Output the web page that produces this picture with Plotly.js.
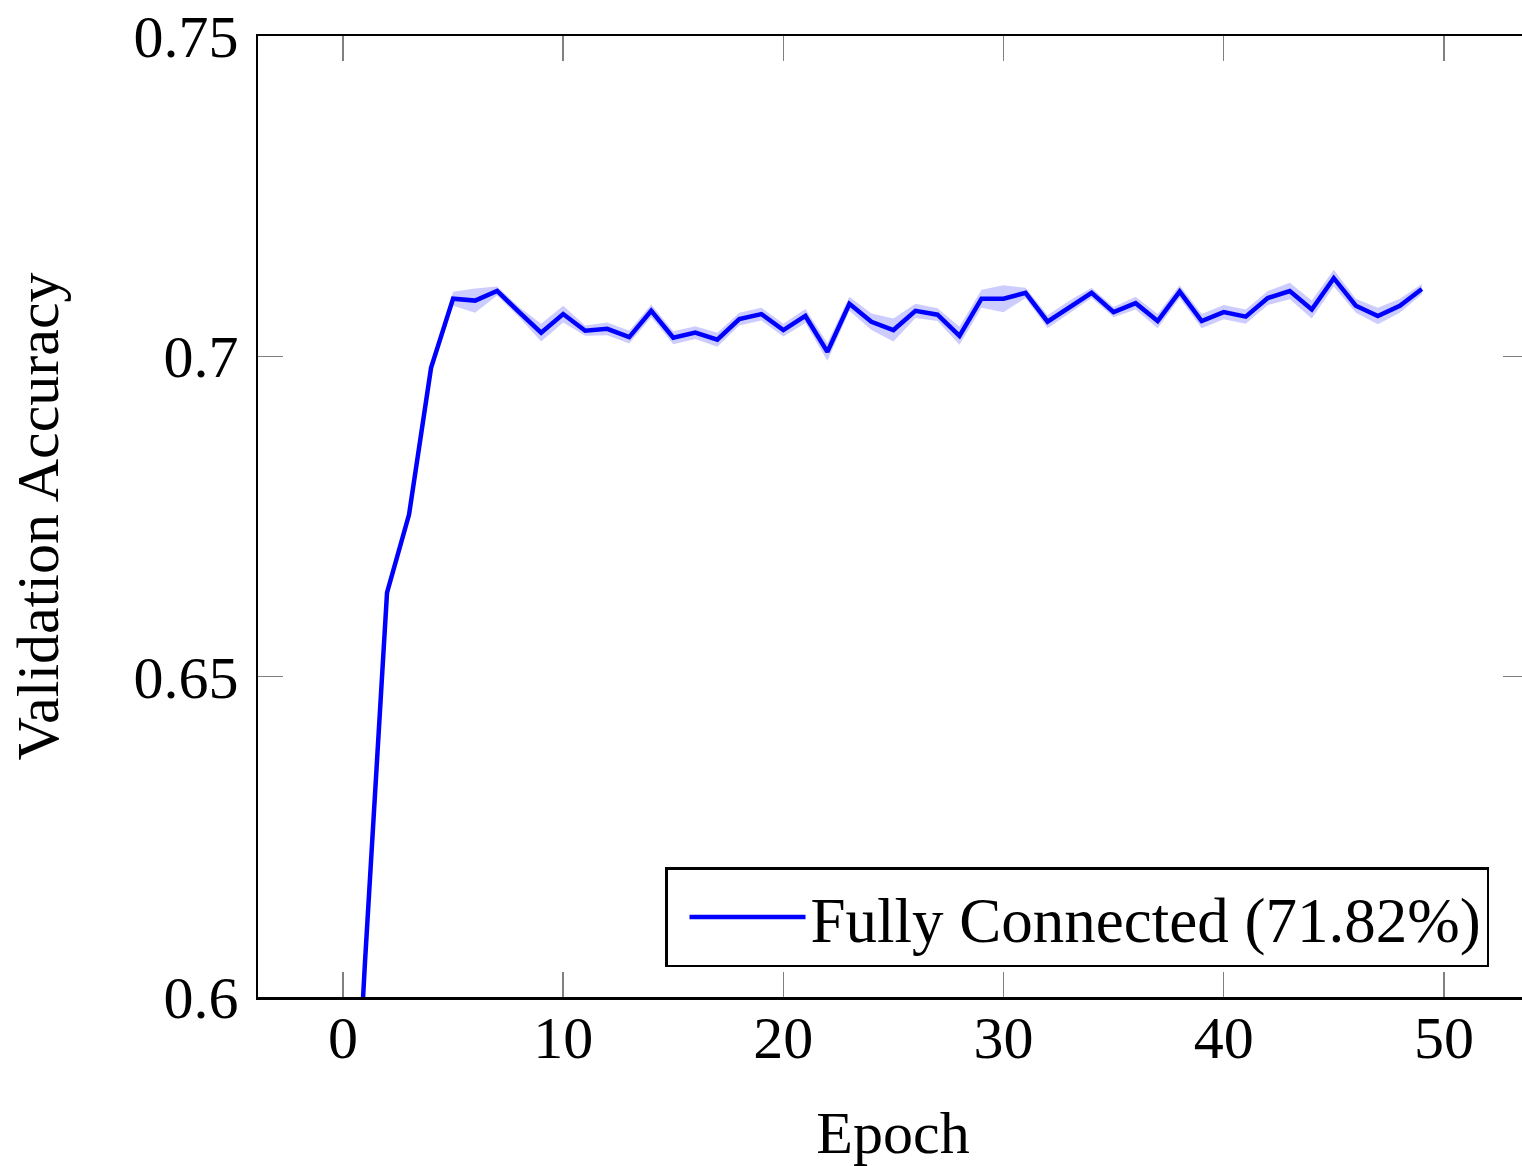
<!DOCTYPE html>
<html>
<head>
<meta charset="utf-8">
<script src="https://cdn.plot.ly/plotly-3.0.1.min.js"></script>
<style>
html, body { margin: 0; padding: 0; background: #fff; overflow: hidden; }
#chart { width: 1528px; height: 1166px; }
</style>
</head>
<body>
<div id="chart"></div>
<script>
const epochs = [0,1,2,3,4,5,6,7,8,9,10,11,12,13,14,15,16,17,18,19,20,21,22,23,24,25,26,27,28,29,30,31,32,33,34,35,36,37,38,39,40,41,42,43,44,45,46,47,48,49];
const meanAcc = [0.542,0.6055,0.6631,0.6753,0.6982,0.7090,0.7087,0.7102,0.7069,0.7037,
                 0.7066,0.7040,0.7043,0.7030,0.7071,0.7029,0.7037,0.7026,0.7058,0.7066,
                 0.7041,0.7063,0.7007,0.7082,0.7054,0.7041,0.7071,0.7065,0.7032,0.7090,
                 0.7090,0.7099,0.7054,0.7077,0.7099,0.7069,0.7083,0.7055,0.7101,0.7055,
                 0.7069,0.7062,0.7091,0.7102,0.7073,0.7122,0.7079,0.7063,0.7079,0.7105];
const stdAcc = [0.0007,0.0007,0.0006,0.0006,0.0006,0.0011,0.0019,0.0007,0.0008,0.0014,
                0.0013,0.0008,0.0010,0.0010,0.0010,0.0010,0.0010,0.0011,0.0010,0.0010,
                0.0010,0.0011,0.0014,0.0011,0.0013,0.0018,0.0011,0.0010,0.0014,0.0014,
                0.0021,0.0008,0.0010,0.0010,0.0008,0.0008,0.0010,0.0011,0.0010,0.0011,
                0.0011,0.0011,0.0011,0.0013,0.0014,0.0013,0.0011,0.0013,0.0011,0.0008];
const seriesName = 'Fully Connected (71.82%)';
const xTickVals = [0,10,20,30,40,50];
const yTickVals = [0.6,0.65,0.7,0.75];
const yTickText = ['0.6','0.65','0.7','0.75'];

const upper = meanAcc.map((m,i) => m + stdAcc[i]);
const lower = meanAcc.map((m,i) => m - stdAcc[i]);

const font = 'Liberation Serif, Times New Roman, serif';

const traces = [
  {x: epochs, y: upper, type: 'scatter', mode: 'lines', line: {width: 0, color: 'rgba(0,0,255,0)'}, showlegend: false, hoverinfo: 'skip'},
  {x: epochs, y: lower, type: 'scatter', mode: 'lines', line: {width: 0, color: 'rgba(0,0,255,0)'}, fill: 'tonexty', fillcolor: 'rgba(0,0,255,0.2)', showlegend: false, hoverinfo: 'skip'},
  {x: epochs, y: meanAcc, type: 'scatter', mode: 'lines', name: seriesName, line: {color: '#0000ff', width: 4.5}}
];

const axisCommon = {
  showline: true, linecolor: '#000', linewidth: 2.5, mirror: 'ticks',
  ticks: 'inside', ticklen: 25, tickwidth: 1.5, tickcolor: '#808080',
  showgrid: false, zeroline: false,
  tickfont: {family: font, size: 60, color: '#000'}
};

const layout = {
  width: 1528, height: 1166,
  margin: {l: 258, r: 0, t: 36, b: 169},
  paper_bgcolor: '#fff', plot_bgcolor: '#fff',
  showlegend: true,
  xaxis: Object.assign({}, axisCommon, {
    range: [-3.86, 53.82], tickmode: 'array', tickvals: xTickVals,
    ticklabelstandoff: -14,
    title: {text: 'Epoch', font: {family: font, size: 60, color: '#000'}, standoff: 46}
  }),
  yaxis: Object.assign({}, axisCommon, {
    range: [0.6, 0.75], tickmode: 'array', tickvals: yTickVals, ticktext: yTickText,
    ticklabelstandoff: 5,
    title: {text: 'Validation Accuracy', font: {family: font, size: 60, color: '#000'}, standoff: 56}
  }),
  legend: {
    x: 0.9693, y: 0.0312, xanchor: 'right', yanchor: 'bottom',
    bgcolor: '#fff', bordercolor: '#000', borderwidth: 2.5,
    font: {family: font, size: 63, color: '#000'},
    itemwidth: 116, indentation: 17
  }
};

Plotly.newPlot('chart', traces, layout, {displayModeBar: false, staticPlot: true});
</script>
</body>
</html>
